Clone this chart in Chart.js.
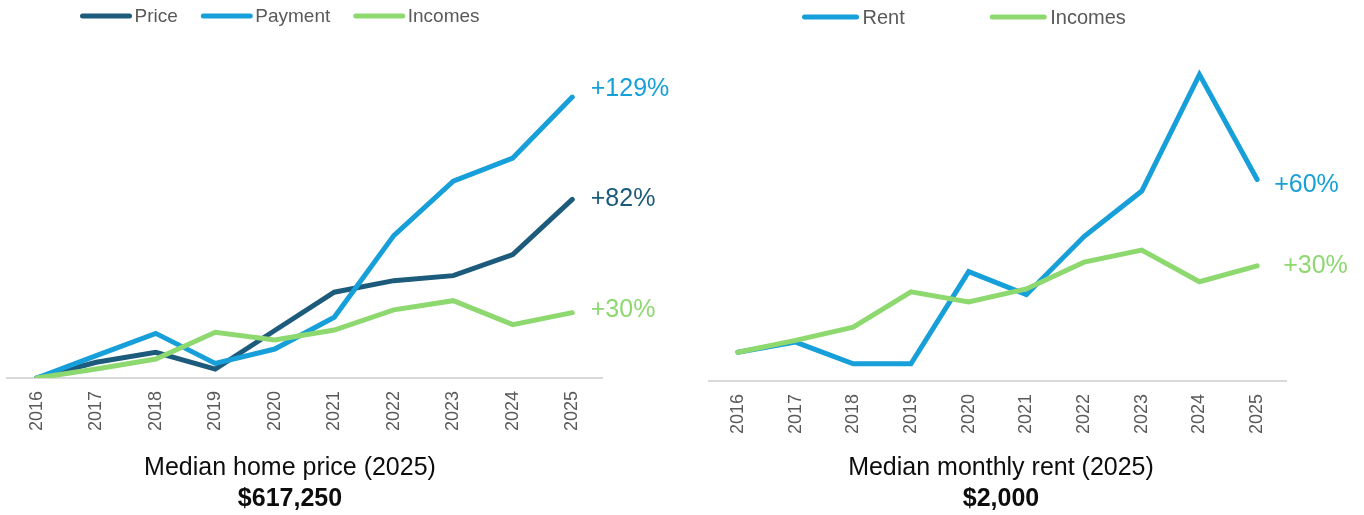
<!DOCTYPE html>
<html>
<head>
<meta charset="utf-8">
<script src="https://cdn.jsdelivr.net/npm/chart.js@4.4.1/dist/chart.umd.min.js"></script>
<style>
html,body{margin:0;padding:0;background:#fff;}
body{width:1364px;height:515px;overflow:hidden;position:relative;font-family:"Liberation Sans",Arial,sans-serif;}
.box{position:absolute;top:0;width:682px;height:515px;}
#b1{left:0;} #b2{left:682px;}
canvas{display:block;}
.cap{position:absolute;transform:translateX(-50%);white-space:nowrap;font-size:25px;line-height:25px;color:#0d0d0d;}
.bold{font-weight:bold;}
</style>
</head>
<body>
<div class="box" id="b1"><canvas id="c1" width="682" height="515" style="width:682px;height:515px"></canvas></div>
<div class="box" id="b2"><canvas id="c2" width="682" height="515" style="width:682px;height:515px"></canvas></div>
<div class="cap" style="left:290px;top:454px;">Median home price (2025)</div>
<div class="cap bold" style="left:290px;top:485px;">$617,250</div>
<div class="cap" style="left:1001px;top:454px;">Median monthly rent (2025)</div>
<div class="cap bold" style="left:1001px;top:485px;">$2,000</div>
<script>
// ---- data (percent change since 2016) ----
const years = ['2016','2017','2018','2019','2020','2021','2022','2023','2024','2025'];
const pricePct   = [0, 7.2, 11.8, 4.1, 21.8, 39.4, 44.7, 47, 56.7, 82];
const paymentPct = [0, 10.3, 20.5, 6.7, 13.3, 27.9, 65.4, 90.4, 101, 129];
const incomesPct = [0, 4.1, 8.7, 21, 17.5, 22, 31.3, 35.5, 24.5, 30];
const rentPct    = [0, 3.5, -4, -4, 28, 20, 40.2, 56, 96.5, 60];

const COL_PRICE = '#1d5b7c';
const COL_PAY = '#169fd8';
const COL_INC = '#8ed870';
const FONT = '"Liberation Sans", Arial, sans-serif';

const lineLegend = {
  id: 'lineLegend',
  afterDraw(chart, args, o) {
    const ctx = chart.ctx;
    let x = o.x;
    ctx.save();
    ctx.font = o.size + 'px ' + FONT;
    ctx.textBaseline = 'middle';
    ctx.textAlign = 'left';
    chart.data.datasets.forEach(ds => {
      ctx.strokeStyle = ds.borderColor;
      ctx.lineWidth = 5;
      ctx.lineCap = 'round';
      ctx.beginPath();
      ctx.moveTo(x + 2.5, o.y);
      ctx.lineTo(x + o.boxW - 2.5, o.y);
      ctx.stroke();
      x += o.boxW + o.gap;
      ctx.fillStyle = '#595959';
      ctx.fillText(ds.label, x, o.y + 1);
      x += ctx.measureText(ds.label).width + o.spacing;
    });
    ctx.restore();
  }
};

const endLabels = {
  id: 'endLabels',
  afterDatasetsDraw(chart, args, o) {
    const ctx = chart.ctx;
    ctx.save();
    ctx.font = '25px ' + FONT;
    ctx.textBaseline = 'middle';
    ctx.textAlign = 'left';
    chart.data.datasets.forEach((ds, i) => {
      const meta = chart.getDatasetMeta(i);
      const pt = meta.data[meta.data.length - 1];
      const v = ds.data[ds.data.length - 1];
      const off = o.offsets[i];
      ctx.fillStyle = ds.borderColor;
      ctx.fillText('+' + Math.round(v) + '%', pt.x + off[0], pt.y + off[1]);
    });
    ctx.restore();
  }
};

function makeChart(id, datasets, cfg) {
  return new Chart(document.getElementById(id), {
    type: 'line',
    data: { labels: years, datasets: datasets },
    options: {
      responsive: false,
      animation: false,
      layout: { padding: { left: cfg.padL, right: cfg.padR, top: cfg.padT, bottom: 0 } },
      plugins: {
        legend: { display: false },
        tooltip: { enabled: false },
        title: { display: false },
        lineLegend: cfg.legend,
        endLabels: { offsets: cfg.offsets }
      },
      elements: {
        point: { radius: 0, hoverRadius: 0 },
        line: { borderWidth: 5, borderCapStyle: 'round', borderJoinStyle: 'miter', tension: 0 }
      },
      scales: {
        x: {
          offset: true,
          grid: { display: false, drawTicks: false },
          border: { display: true, color: '#d9d9d9', width: 2 },
          ticks: {
            minRotation: 90, maxRotation: 90, padding: 13, autoSkip: false,
            color: '#595959', font: { family: FONT, size: 18 }
          },
          afterFit: s => { s.height = cfg.axisH; }
        },
        y: { display: false, min: cfg.min, max: cfg.max }
      }
    },
    plugins: [lineLegend, endLabels]
  });
}

makeChart('c1', [
  { label: 'Price', data: pricePct, borderColor: COL_PRICE, backgroundColor: COL_PRICE, fill: false, order: 2 },
  { label: 'Payment', data: paymentPct, borderColor: COL_PAY, backgroundColor: COL_PAY, fill: false, order: 1 },
  { label: 'Incomes', data: incomesPct, borderColor: COL_INC, backgroundColor: COL_INC, fill: false, order: 0 }
], {
  padL: 7, padR: 80, padT: 40, axisH: 137, min: 0, max: 155.2,
  legend: { x: 80, y: 16, boxW: 52, gap: 2.5, spacing: 23, size: 19 },
  offsets: [[18.5, 0], [18.5, -8], [18.5, -3]]
});

makeChart('c2', [
  { label: 'Rent', data: rentPct, borderColor: COL_PAY, backgroundColor: COL_PAY, fill: false, order: 1 },
  { label: 'Incomes', data: incomesPct, borderColor: COL_INC, backgroundColor: COL_INC, fill: false, order: 0 }
], {
  padL: 27, padR: 78, padT: 40, axisH: 134, min: -10, max: 108.5,
  legend: { x: 120, y: 17, boxW: 57, gap: 3.5, spacing: 85, size: 20 },
  offsets: [[17, 6], [26, 0]]
});
</script>
</body>
</html>
